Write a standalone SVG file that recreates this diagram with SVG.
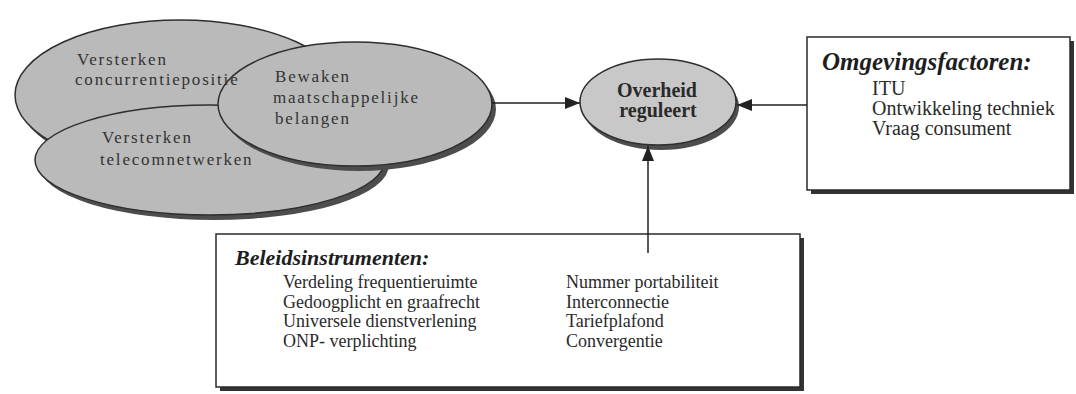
<svg xmlns="http://www.w3.org/2000/svg" width="1076" height="394" viewBox="0 0 1076 394">
<style>
.ell{fill:#bababa;stroke:#2e2e2e;stroke-width:1.5}
.shd{fill:#4d4d4d}
.et{font-family:"Liberation Serif",serif;font-size:17px;letter-spacing:1.8px;fill:#333333}
.ov{font-family:"Liberation Serif",serif;font-size:20px;font-weight:bold;fill:#2a2a2a;text-anchor:middle}
.box{fill:#ffffff;stroke:#2a2a2a;stroke-width:1.5}
.bsh{fill:#333333}
.hd{font-family:"Liberation Serif",serif;font-weight:bold;font-style:italic;fill:#1e1e1e}
.it{font-family:"Liberation Serif",serif;fill:#2a2a2a}
.con{stroke:#222;stroke-width:1.5;fill:none}
</style>
<defs>
<marker id="arr" markerUnits="userSpaceOnUse" markerWidth="16" markerHeight="14" refX="15" refY="7" orient="auto">
<path d="M0,1 L15,7 L0,13 Z" fill="#222"/>
</marker>
</defs>
<rect width="1076" height="394" fill="#ffffff"/>

<g id="ellipse-concurrentiepositie">
<ellipse class="shd" cx="184" cy="100" rx="165" ry="75"/>
<ellipse class="ell" cx="180" cy="95" rx="165" ry="75"/>
</g>
<g id="ellipse-telecomnetwerken">
<ellipse class="shd" cx="214" cy="165" rx="175" ry="55"/>
<ellipse class="ell" cx="210" cy="160" rx="175" ry="55"/>
<text class="et" x="102" y="143">Versterken</text>
<text class="et" x="100" y="165">telecomnetwerken</text>
</g>
<g id="ellipse-belangen">
<ellipse class="shd" cx="359" cy="109" rx="137" ry="62"/>
<ellipse class="ell" cx="355" cy="104" rx="137" ry="62"/>
<text class="et" x="275" y="82">Bewaken</text>
<text class="et" x="273" y="103">maatschappelijke</text>
<text class="et" x="275" y="124">belangen</text>
</g>
<g id="ellipse-concurrentiepositie-label">
<text class="et" x="77" y="65">Versterken</text>
<text class="et" x="75" y="85">concurrentiepositie</text>
</g>

<g id="overheid">
<ellipse class="shd" cx="661" cy="107" rx="78" ry="43"/>
<ellipse class="ell" cx="658" cy="102" rx="78" ry="43" style="fill:#c8c8c8"/>
<text class="ov" x="657" y="97">Overheid</text>
<text class="ov" x="658" y="117">reguleert</text>
</g>

<g id="omgevingsfactoren">
<rect class="bsh" x="811" y="41" width="263" height="153"/>
<rect class="box" x="807" y="37" width="263" height="153"/>
<text class="hd" x="822" y="70" font-size="25">Omgevingsfactoren:</text>
<text class="it" x="872" y="95" font-size="20">ITU</text>
<text class="it" x="872" y="115" font-size="20">Ontwikkeling techniek</text>
<text class="it" x="872" y="135" font-size="20">Vraag consument</text>
</g>

<g id="beleidsinstrumenten">
<rect class="bsh" x="220" y="238" width="584" height="153"/>
<rect class="box" x="216" y="234" width="584" height="153"/>
<text class="hd" x="235" y="265" font-size="22">Beleidsinstrumenten:</text>
<text class="it" x="283" y="288" font-size="18">Verdeling frequentieruimte</text>
<text class="it" x="283" y="308" font-size="18">Gedoogplicht en graafrecht</text>
<text class="it" x="283" y="327" font-size="18">Universele dienstverlening</text>
<text class="it" x="283" y="347" font-size="18">ONP- verplichting</text>
<text class="it" x="566" y="288" font-size="18">Nummer portabiliteit</text>
<text class="it" x="566" y="308" font-size="18">Interconnectie</text>
<text class="it" x="566" y="327" font-size="18">Tariefplafond</text>
<text class="it" x="566" y="347" font-size="18">Convergentie</text>
</g>

<g id="connectors">
<line class="con" x1="492" y1="103" x2="580" y2="103" marker-end="url(#arr)"/>
<line class="con" x1="807" y1="105" x2="737" y2="105" marker-end="url(#arr)"/>
<line class="con" x1="648" y1="253" x2="648" y2="146" marker-end="url(#arr)"/>
</g>
</svg>
